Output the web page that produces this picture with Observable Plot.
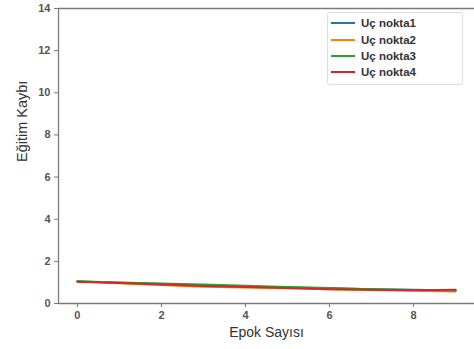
<!DOCTYPE html>
<html>
<head>
<meta charset="utf-8">
<script src="https://cdn.jsdelivr.net/npm/d3@7"></script>
<script src="https://cdn.jsdelivr.net/npm/@observablehq/plot@0.6"></script>
<style>
  html, body { margin: 0; padding: 0; background: #fff; }
  #wrap { position: relative; width: 474px; height: 349px; overflow: hidden; font-family: "Liberation Sans", Arial, sans-serif; }
  #legend { position: absolute; left: 327px; top: 12px; width: 136px; height: 73px; box-sizing: border-box;
            border: 1px solid #ddd; border-radius: 3px; background: #fff; padding: 2px 0 0 3px; }
  .item { display: flex; align-items: center; height: 16.4px; font-size: 11.5px; font-weight: bold; color: #333; }
  .swatch { width: 24px; height: 0; border-top: 2px solid; margin-right: 6px; }
</style>
</head>
<body>
<div id="wrap"><div id="legend"></div></div>
<script>
// Training loss per epoch for four endpoints
const epochs = [0, 1, 2, 3, 4, 5, 6, 7, 8, 9];
const seriesNames = ["Uç nokta1", "Uç nokta2", "Uç nokta3", "Uç nokta4"];
const seriesColors = ["#1f77b4", "#ff7f0e", "#2ca02c", "#d62728"];
const loss1 = [1.05, 0.98, 0.92, 0.86, 0.81, 0.76, 0.72, 0.68, 0.65, 0.62];
const loss2 = [1.04, 0.96, 0.88, 0.80, 0.76, 0.72, 0.68, 0.64, 0.60, 0.57];
const loss3 = [1.06, 1.00, 0.95, 0.90, 0.84, 0.78, 0.73, 0.68, 0.64, 0.62];
const loss4 = [1.03, 0.97, 0.90, 0.83, 0.78, 0.73, 0.68, 0.65, 0.63, 0.65];
const xTicks = [0, 2, 4, 6, 8];
const yTicks = [0, 2, 4, 6, 8, 10, 12, 14];
const xDomain = [-0.45, 9.45];
const yDomain = [0, 14];

const allLoss = [loss1, loss2, loss3, loss4];
const rows = [];
allLoss.forEach((vals, i) => {
  vals.forEach((v, j) => rows.push({ epoch: epochs[j], loss: v, series: seriesNames[i] }));
});

const spine = "#7a7a7a";
const chart = Plot.plot({
  width: 474,
  height: 349,
  marginLeft: 58,
  marginTop: 8,
  marginBottom: 46,
  marginRight: 0,
  style: { fontFamily: "'Liberation Sans', Arial, sans-serif", color: "#333", background: "#fff" },
  x: { domain: xDomain, ticks: xTicks, tickSize: 4, tickPadding: 5, label: null },
  y: { domain: yDomain, ticks: yTicks, tickSize: 4, tickPadding: 4, label: null },
  color: { domain: seriesNames, range: seriesColors },
  marks: [
    Plot.axisX({ ticks: xTicks, tickSize: 4, tickPadding: 4, fontSize: 11, fontWeight: "bold", stroke: spine, label: null, fill: "#555" }),
    Plot.axisY({ ticks: yTicks, tickSize: 4, tickPadding: 4, fontSize: 11, fontWeight: "bold", stroke: spine, label: null, fill: "#555" }),
    Plot.ruleX([xDomain[0]], { stroke: spine, strokeWidth: 1.3 }),
    Plot.ruleY([yDomain[0], yDomain[1]], { stroke: spine, strokeWidth: 1.3 }),
    Plot.line(rows, { x: "epoch", y: "loss", z: "series", stroke: "series", strokeWidth: 2 }),
    Plot.text(["Epok Sayısı"], { frameAnchor: "bottom", dy: 33, fontSize: 14, fill: "#333" }),
    Plot.text(["Eğitim Kaybı"], { frameAnchor: "left", dx: -36, dy: 6, rotate: -90, fontSize: 14.5, fill: "#333" })
  ]
});
document.getElementById("wrap").prepend(chart);

const legend = document.getElementById("legend");
seriesNames.forEach((name, i) => {
  const item = document.createElement("div");
  item.className = "item";
  const sw = document.createElement("span");
  sw.className = "swatch";
  sw.style.borderColor = seriesColors[i];
  item.appendChild(sw);
  item.appendChild(document.createTextNode(name));
  legend.appendChild(item);
});
</script>
</body>
</html>
